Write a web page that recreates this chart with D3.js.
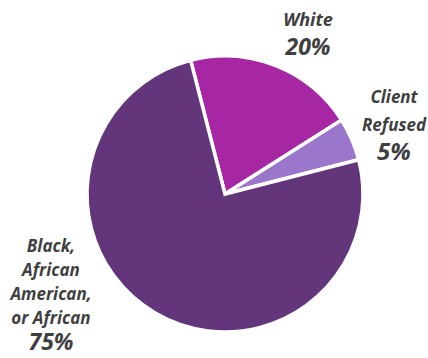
<!DOCTYPE html>
<html>
<head>
<meta charset="utf-8">
<script src="https://cdn.jsdelivr.net/npm/d3@7"></script>
<style>
  html, body { margin: 0; padding: 0; background: #ffffff; }
  svg { display: block; }
  text { font-family: "Open Sans", "Lato", sans-serif; font-weight: 700; font-style: italic; fill: #3f3f3f; }
</style>
</head>
<body>
<svg id="chart" width="428" height="358"></svg>
<script>
// Race / ethnicity breakdown (percent of clients)
const categories = ["White", "Client Refused", "Black, African American, or African"];
const values = [20, 5, 75];
const colors = ["#A726A3", "#9A77CB", "#63367C"];
const nameLines = [["White"], ["Client", "Refused"], ["Black,", "African", "American,", "or African"]];
const valueLabels = ["20%", "5%", "75%"];

const svg = d3.select("#chart");
const cx = 225, cy = 194, radius = 138;

const pie = d3.pie()
  .sort(null)
  .value(d => d)
  .startAngle(-14.4 * Math.PI / 180)
  .endAngle((360 - 14.4) * Math.PI / 180);

const arc = d3.arc().innerRadius(0).outerRadius(radius);

const g = svg.append("g").attr("transform", `translate(${cx},${cy})`);

g.selectAll("path")
  .data(pie(values))
  .join("path")
  .attr("d", arc)
  .attr("fill", (d, i) => colors[i])
  .attr("stroke", "#ffffff")
  .attr("stroke-width", 3.5)
  .attr("stroke-linejoin", "miter");

// Label blocks: x centre, first baseline, line gap, value baseline, font sizes
const labelLayout = [
  { x: 308, y: 26, gap: 25, vy: 55, fs: 18, vfs: 23 },
  { x: 394, y: 103, gap: 28, vy: 160, fs: 17, vfs: 24 },
  { x: 51, y: 252, gap: 24, vy: 350, fs: 17, vfs: 23 }
];

categories.forEach((c, i) => {
  const L = labelLayout[i];
  const t = svg.append("g").attr("class", "label");
  nameLines[i].forEach((line, j) => {
    t.append("text")
      .attr("x", L.x)
      .attr("y", L.y + j * L.gap)
      .attr("text-anchor", "middle")
      .attr("font-size", L.fs)
      .text(line);
  });
  t.append("text")
    .attr("x", L.x)
    .attr("y", L.vy)
    .attr("text-anchor", "middle")
    .attr("font-size", L.vfs)
    .text(valueLabels[i]);
});
</script>
</body>
</html>
